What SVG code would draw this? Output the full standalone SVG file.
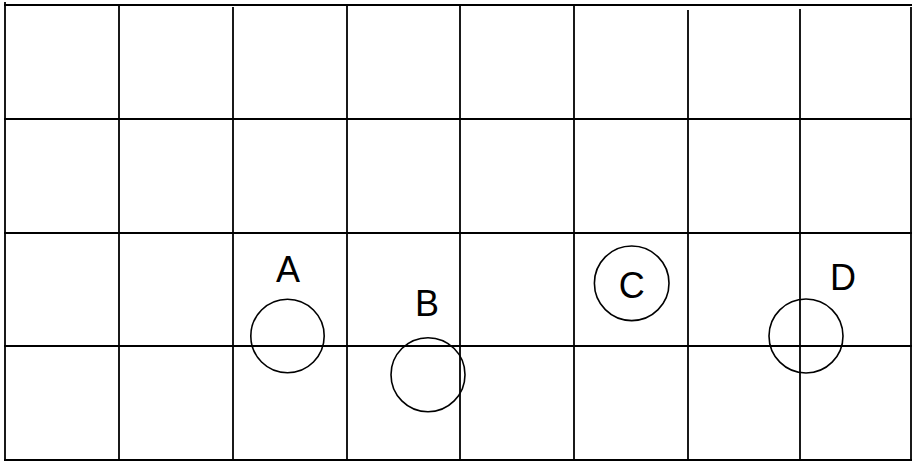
<svg xmlns="http://www.w3.org/2000/svg" width="916" height="465" viewBox="0 0 916 465">
<style>
.g{stroke:#000;stroke-width:1.8;fill:none}
.c{stroke:#000;stroke-width:1.6;fill:none}
.t{font-family:"Liberation Sans",Arial,sans-serif;font-size:36px;fill:#000;text-anchor:middle}
</style>
<rect width="916" height="465" fill="#fff"/>
<g id="grid">
<line class="g" x1="4" y1="5" x2="912" y2="5"/>
<line class="g" x1="4" y1="119" x2="912" y2="119"/>
<line class="g" x1="4" y1="233" x2="912" y2="233"/>
<line class="g" x1="4" y1="346" x2="912" y2="346"/>
<line class="g" x1="4" y1="460" x2="912" y2="460"/>
<line class="g" x1="5" y1="2" x2="5" y2="461"/>
<line class="g" x1="119" y1="4" x2="119" y2="461"/>
<line class="g" x1="233" y1="7" x2="233" y2="461"/>
<line class="g" x1="347" y1="5" x2="347" y2="461"/>
<line class="g" x1="460" y1="5" x2="460" y2="461"/>
<line class="g" x1="574" y1="5" x2="574" y2="461"/>
<line class="g" x1="688" y1="10" x2="688" y2="461"/>
<line class="g" x1="800" y1="9" x2="800" y2="461"/>
<line class="g" x1="911" y1="7" x2="911" y2="461"/>
</g>
<g id="A">
<circle class="c" cx="287.5" cy="336" r="36.7"/>
<text class="t" x="288" y="282">A</text>
</g>
<g id="B">
<circle class="c" cx="428" cy="374.7" r="37"/>
<text class="t" x="427" y="315.5">B</text>
</g>
<g id="C">
<circle class="c" cx="631.7" cy="283.3" r="37.3"/>
<text class="t" x="631.7" y="297.5">C</text>
</g>
<g id="D">
<circle class="c" cx="806" cy="336" r="37"/>
<text class="t" x="843" y="290">D</text>
</g>
</svg>
